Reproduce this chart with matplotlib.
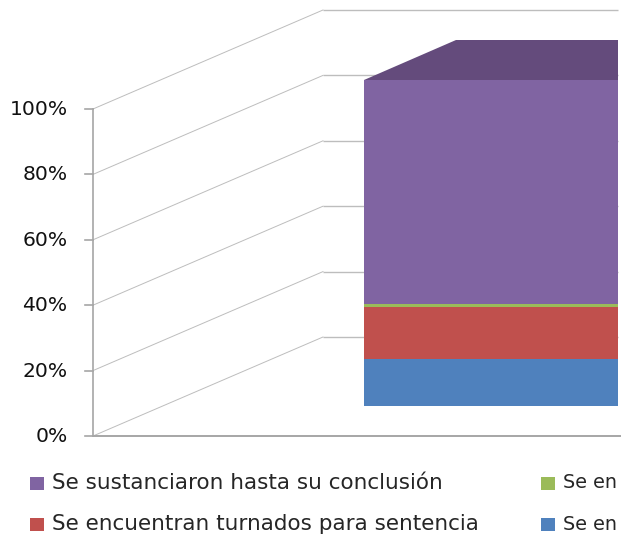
"""Stacked 100% 3D-look column, drawn on a pixel-sized canvas axes."""
import matplotlib
matplotlib.use("Agg")
import matplotlib.pyplot as plt
from matplotlib.patches import Polygon, Rectangle

# Data (share of the single column, bottom to top)
series_names = [
    "Se en",
    "Se encuentran turnados para sentencia",
    "Se en",
    "Se sustanciaron hasta su conclusión",
]
series_values = [14.4, 16.0, 1.0, 68.6]
series_colors = ["#4F81BD", "#C0504D", "#9BBB59", "#8064A2"]
top_color = "#644B7C"
tick_values = [0, 20, 40, 60, 80, 100]
tick_labels = ["0%", "20%", "40%", "60%", "80%", "100%"]

# Projection of the fake 3D box, in pixels
W, H = 621, 537
AXIS_X, ZERO_Y = 93, 436
PX_PER_PCT = 3.27
WALL_DX, WALL_DY = 230, -99
BAR_L, BAR_R = 364, 618
BAR_BOTTOM = 406
BAR_HEIGHT = 326
BAR_DX, BAR_DY = 92, -40
GREY = "#A6A6A6"
GRID = "#BDBDBD"
FONT = "DejaVu Sans"


def y_of(v):
    return ZERO_Y - v * PX_PER_PCT


fig = plt.figure(figsize=(W / 100, H / 100), dpi=100, facecolor="white")
ax = fig.add_axes([0, 0, 1, 1])
ax.set_xlim(0, W)
ax.set_ylim(H, 0)
ax.axis("off")

# Walls: slanted side grid, then the back wall lines
for v in tick_values:
    y0 = y_of(v)
    ax.plot([AXIS_X, AXIS_X + WALL_DX], [y0, y0 + WALL_DY], color=GRID, lw=0.7, zorder=1)
    ax.plot([AXIS_X + WALL_DX, BAR_R], [y0 + WALL_DY, y0 + WALL_DY], color=GRID, lw=1.0,
            solid_capstyle="butt", zorder=1)

# Axis lines and ticks
ax.plot([AXIS_X, AXIS_X], [y_of(0), y_of(100)], color=GREY, lw=1.2, zorder=2)
ax.plot([AXIS_X, W], [y_of(0), y_of(0)], color=GREY, lw=1.4, zorder=2)
for v, lab in zip(tick_values, tick_labels):
    ax.plot([AXIS_X - 8, AXIS_X], [y_of(v), y_of(v)], color=GREY, lw=1.2, zorder=2)
    txt = ax.text(67.5, y_of(v) + 0.5, lab, ha="right", va="center", fontsize=14.6,
                  family=FONT, color="#111111", zorder=3)
    if v == 100:
        # the source picture trims the foot of this label
        txt.set_clip_path(Rectangle((0, 0), W, y_of(v) + 8, transform=ax.transData))

# Column segments
bottom = BAR_BOTTOM
for val, col in zip(series_values, series_colors):
    h = val / 100 * BAR_HEIGHT
    ax.add_patch(Rectangle((BAR_L, bottom - h), BAR_R - BAR_L, h, facecolor=col,
                           edgecolor="none", zorder=4))
    bottom -= h

# Top face of the column
ax.add_patch(Polygon([(BAR_L, bottom), (BAR_L + BAR_DX, bottom + BAR_DY),
                      (BAR_R, bottom + BAR_DY), (BAR_R, bottom)],
                     closed=True, facecolor=top_color, edgecolor="none", zorder=4))

# Legend, laid out by hand since the picture crops its right column
legend_slots = [(3, 30, 483, 15.5), (2, 541, 483, 13.8), (1, 30, 524, 15.5), (0, 541, 524, 13.8)]
for idx, x, y, size in legend_slots:
    ax.add_patch(Rectangle((x, y - 6.5), 14, 13, facecolor=series_colors[idx],
                           edgecolor="none", zorder=4))
    ax.text(x + 22, y, series_names[idx], ha="left", va="center", fontsize=size,
            family=FONT, color="#262626", zorder=5)

fig.savefig("out.png", dpi=100, facecolor="white")
plt.close(fig)
